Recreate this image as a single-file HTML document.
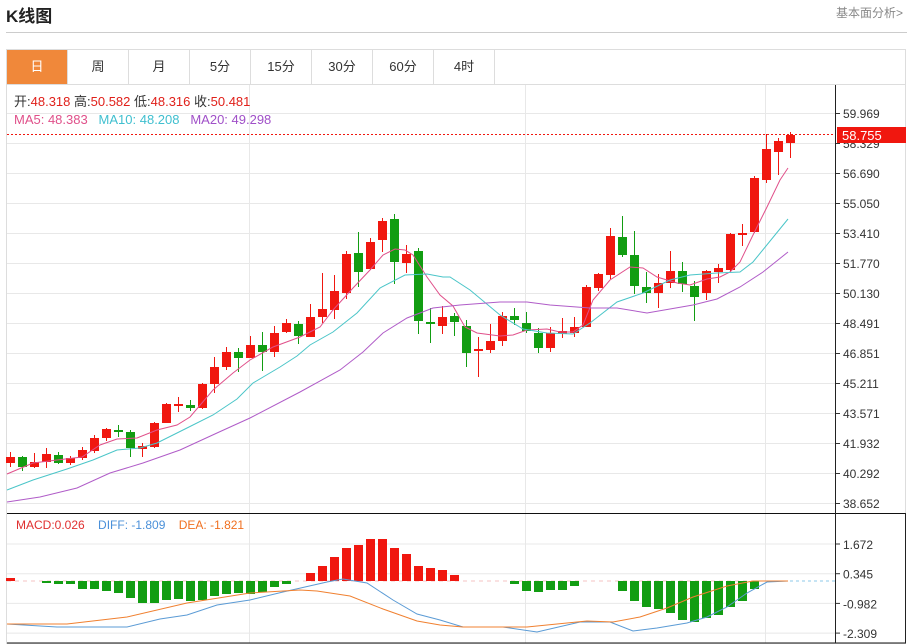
<!DOCTYPE html>
<html><head><meta charset="utf-8"><style>
*{margin:0;padding:0;box-sizing:border-box}
body{width:907px;height:644px;background:#fff;font-family:"Liberation Sans","Noto Sans CJK SC",sans-serif;position:relative;overflow:hidden}
.t{position:absolute;left:6px;top:2px;font-size:17px;font-weight:bold;color:#222}
.r{position:absolute;right:4px;top:4px;font-size:12px;color:#888}
.hr{position:absolute;left:6px;right:0;top:32px;border-top:1px solid #ccc}
.tabs{position:absolute;left:6px;top:49px;width:900px;height:36px;border:1px solid #ddd;display:flex}
.tabs div{width:61px;height:34px;border-right:1px solid #ddd;text-align:center;line-height:34px;font-size:13px;color:#333}
.tabs div.a{background:#f0883a;color:#fff}
svg{position:absolute;left:0;top:0}
</style></head><body>
<div class="t">K线图</div><div class="r">基本面分析&gt;</div><div class="hr"></div>
<div class="tabs"><div class="a">日</div><div>周</div><div>月</div><div>5分</div><div>15分</div><div>30分</div><div>60分</div><div>4时</div></div>
<svg id="s" width="907" height="644" xmlns="http://www.w3.org/2000/svg" font-family="Liberation Sans, Noto Sans CJK SC, sans-serif"></svg>
<script>
var s=document.getElementById('s'),h='';
function L(x1,y1,x2,y2,c,w,d){h+='<line x1="'+x1+'" y1="'+y1+'" x2="'+x2+'" y2="'+y2+'" stroke="'+c+'" stroke-width="'+(w||1)+'"'+(d?' stroke-dasharray="'+d+'"':'')+'/>';}
function T(x,y,t,c,sz){h+='<text x="'+x+'" y="'+y+'" fill="'+c+'" font-size="'+(sz||12)+'">'+t+'</text>';}
function P(pts,c){h+='<polyline fill="none" stroke="'+c+'" stroke-width="1" points="'+pts+'"/>';}
// frame
h+='<rect x="6.5" y="84.5" width="899" height="559" fill="none" stroke="#ddd"/>';
var lab=['59.969','58.329','56.690','55.050','53.410','51.770','50.130','48.491','46.851','45.211','43.571','41.932','40.292','38.652'];
for(var i=0;i<14;i++){var y=113+i*30;L(7,y+.5,835,y+.5,'#e8e8e8');L(835,y+.5,840,y+.5,'#333');if(i!=1)T(843,y+5,lab[i],'#333',12);}
T(843,148,'58.329','#333',12);
[249,525,765].forEach(function(x){L(x+.5,85,x+.5,643,'#e8e8e8');});
var ml=['1.672','0.345','-0.982','-2.309'];
for(i=0;i<4;i++){y=544+i*29.7;L(7,y,835,y,'#e8e8e8');L(835,y,840,y,'#333');T(843,y+5,ml[i],'#333',12);}
// candles: [bodyTop,bodyBot,wickTop,wickBot,up]
var C=[[457,463,452,467,1],[457,467,456,471,0],[462,467,453,468,1],[454,462,448,468,1],[455,463,452,464,0],[458,463,456,465,1],[450,458,447,460,1],[438,451,435,453,1],[429,438,428,441,1],[430,432,425,437,0],[432,448,430,457,0],[446,449,443,457,1],[423,447,422,448,1],[404,423,403,423,1],[404,406,397,412,1],[405,408,400,411,0],[384,408,383,409,1],[367,384,357,393,1],[352,367,347,370,1],[352,358,348,372,0],[345,358,336,358,1],[345,352,332,371,0],[333,352,326,357,1],[323,332,319,333,1],[324,336,321,344,0],[317,337,304,337,1],[309,317,273,323,1],[291,310,275,319,1],[254,293,251,299,1],[253,272,232,287,0],[242,269,238,270,1],[221,240,218,252,1],[219,262,214,284,0],[254,263,245,273,1],[251,321,248,334,0],[322,324,308,343,0],[317,326,306,334,1],[316,322,313,336,0],[326,353,320,367,0],[349,351,337,377,1],[341,350,324,353,1],[316,341,312,346,1],[316,320,308,325,0],[323,331,312,333,0],[333,348,328,353,0],[333,348,327,352,1],[331,334,318,338,1],[327,333,317,337,1],[287,327,285,327,1],[274,288,273,291,1],[236,275,228,279,1],[237,255,216,257,0],[255,286,231,294,0],[287,293,272,303,0],[283,293,274,308,1],[271,283,251,288,1],[271,284,262,292,0],[286,297,281,321,0],[271,293,270,300,1],[268,272,264,283,1],[234,270,233,272,1],[233,235,224,246,1],[178,232,176,233,1],[149,180,134,183,1],[141,152,138,175,1],[135,143,132,158,1]];
C.forEach(function(c,i){var x=10+i*12,col=c[4]?'#f0170f':'#129d12';L(x+.5,c[2],x+.5,c[3],col);h+='<rect x="'+(x-4)+'" y="'+c[0]+'" width="9" height="'+Math.max(1,c[1]-c[0])+'" fill="'+col+'"/>';});
P('7,474 33,463 57,460 82,457 100,445 117,439 137,438 157,430 177,425 190,417 213,390 233,373 250,360 273,347 300,337 320,327 333,310 353,288 370,270 383,255 395,249 405,250 413,255 427,277 440,295 453,306 465,327 477,333 500,336 513,335 527,330 547,329 560,332 573,332 583,325 593,300 610,280 630,267 643,268 657,277 677,283 690,285 707,279 720,277 730,272 740,262 753,235 767,207 780,180 788,168','#e0508a');
P('7,490 33,480 67,469 93,460 117,450 140,448 157,443 187,428 213,415 237,399 253,383 280,367 297,356 310,345 333,332 357,313 380,288 405,275 427,274 443,277 450,277 470,290 500,315 523,329 547,333 573,334 590,323 617,302 643,293 670,280 690,275 717,273 740,272 753,262 788,219','#4ac5c8');
P('7,502 40,497 77,488 110,473 143,463 180,450 217,433 250,418 300,392 340,370 363,352 383,333 407,318 433,308 460,305 500,302 527,302 550,305 590,308 617,308 647,313 693,305 717,299 740,287 763,272 788,252','#b05cc8');
// last price
L(7,134.5,835,134.5,'#f0170f',1,'2,2');
h+='<rect x="837" y="127" width="69" height="16" fill="#f0170f"/>';T(842,140,'58.755','#fff',13);
// separators & axis
L(7,513.5,906,513.5,'#111');L(7,643,906,643,'#111');L(835.5,85,835.5,643,'#222');L(905.5,513,905.5,643,'#222');
// legends
h+='<text x="14" y="106" font-size="13" fill="#333">开:<tspan fill="#e0201a">48.318</tspan>  高:<tspan fill="#e0201a">50.582</tspan>  低:<tspan fill="#e0201a">48.316</tspan>  收:<tspan fill="#e0201a">50.481</tspan></text>';
h+='<text x="14" y="124" font-size="13" xml:space="preserve"><tspan fill="#e0508a">MA5: 48.383</tspan><tspan fill="#3fbfcf">   MA10: 48.208</tspan><tspan fill="#a050c8">   MA20: 49.298</tspan></text>';
h+='<text x="16" y="529" font-size="12" xml:space="preserve"><tspan fill="#e03030">MACD:0.026</tspan><tspan fill="#4a90d9">    DIFF: -1.809</tspan><tspan fill="#f07020">    DEA: -1.821</tspan></text>';
// MACD
L(790,581,835,581,'#8cc8e8',1,'3,3');
L(7,581,790,581,'#e88',0.6,'4,4');
var M={0:578,3:583,4:584,5:584,6:589,7:589,8:591,9:593,10:598,11:603,12:603,13:600,14:599,15:601,16:600,17:596,18:594,19:593,20:594,21:592,22:587,23:584,25:573,26:566,27:557,28:548,29:545,30:539,31:539,32:548,33:554,34:566,35:568,36:570,37:575,42:584,43:591,44:592,45:590,46:590,47:586,51:591,52:601,53:607,54:609,55:613,56:620,57:622,58:618,59:615,60:607,61:601,62:589};
for(var k in M){var v=M[k],x=10+k*12;var up=v<581;h+='<rect x="'+(x-4)+'" y="'+(up?v:581)+'" width="9" height="'+Math.abs(v-581)+'" fill="'+(up?'#f0170f':'#129d12')+'"/>';}
P('7,624 57,627 127,627 160,619 187,615 217,605 250,600 283,592 327,582 343,579 367,583 393,600 417,614 440,620 463,627 503,627 537,632 580,622 610,622 633,631 657,628 687,623 707,617 727,607 747,593 767,582 788,581','#5b9bd5');
P('7,624 67,624 127,617 187,603 250,593 300,590 317,591 350,596 383,609 417,621 440,625 463,627 527,627 587,621 613,622 640,617 667,608 693,597 727,586 753,581 788,581','#f08030');
s.innerHTML=h;
</script>
</body></html>
